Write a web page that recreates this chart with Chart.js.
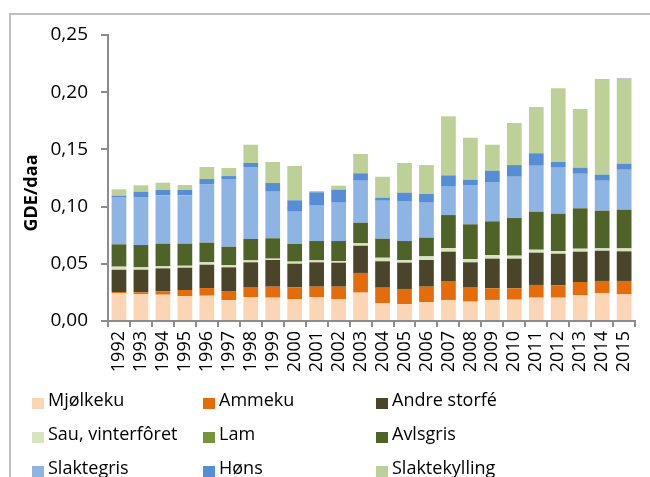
<!DOCTYPE html>
<html>
<head>
<meta charset="utf-8">
<script src="https://cdn.jsdelivr.net/npm/chart.js@4"></script>
<style>
  body { margin: 0; background: #fff; }
  #wrap { position: relative; width: 650px; height: 477px; overflow: hidden; }
  #frame { position: absolute; left: 9px; top: 13px; width: 700px; height: 500px;
           border-left: 2px solid #bfbfbf; border-top: 2px solid #bfbfbf; }
  canvas { position: absolute; left: 0; top: 0; }
  .lg { position: absolute; font: 18px "Open Sans", sans-serif; color: #000; white-space: nowrap; }
  .lg span { position: absolute; width: 12px; height: 11px; left: 0; top: 7px; }
  .lg b { font-weight: normal; position: absolute; left: 16px; top: -4px; }
</style>
</head>
<body>
<div id="wrap">
  <div id="frame"></div>
  <canvas id="chart" width="650" height="477"></canvas>
  <div id="legend"></div>
</div>
<script>
const years = ['1992','1993','1994','1995','1996','1997','1998','1999','2000','2001','2002','2003',
               '2004','2005','2006','2007','2008','2009','2010','2011','2012','2013','2014','2015'];

// GDE/daa per husdyrslag (lest av figuren)
const mjolkeku      = [0.0242,0.0236,0.0230,0.0216,0.0221,0.0181,0.0210,0.0204,0.0190,0.0207,0.0190,0.0248,
                       0.0157,0.0146,0.0166,0.0184,0.0169,0.0184,0.0186,0.0204,0.0204,0.0227,0.0245,0.0233];
const ammeku        = [0.0011,0.0015,0.0029,0.0055,0.0067,0.0081,0.0087,0.0096,0.0104,0.0093,0.0110,0.0172,
                       0.0134,0.0134,0.0134,0.0160,0.0128,0.0102,0.0100,0.0111,0.0108,0.0114,0.0105,0.0117];
const andreStorfe   = [0.0195,0.0197,0.0201,0.0195,0.0204,0.0207,0.0216,0.0233,0.0207,0.0213,0.0210,0.0238,
                       0.0231,0.0230,0.0233,0.0262,0.0216,0.0259,0.0259,0.0282,0.0276,0.0265,0.0264,0.0259];
const sau           = [0.0027,0.0021,0.0018,0.0017,0.0021,0.0018,0.0017,0.0012,0.0018,0.0017,0.0014,0.0021,
                       0.0031,0.0023,0.0032,0.0032,0.0029,0.0032,0.0026,0.0026,0.0024,0.0026,0.0021,0.0026];
const lam           = [0,0,0,0,0,0,0,0,0,0,0,0,0,0,0,0,0,0,0,0,0,0,0,0];
const avlsgris      = [0.0195,0.0195,0.0198,0.0193,0.0172,0.0162,0.0187,0.0178,0.0154,0.0169,0.0175,0.0180,
                       0.0166,0.0166,0.0163,0.0288,0.0303,0.0294,0.0329,0.0332,0.0326,0.0353,0.0329,0.0338];
const slaktegris    = [0.0408,0.0420,0.0422,0.0422,0.0512,0.0592,0.0629,0.0407,0.0282,0.0309,0.0335,0.0367,
                       0.0332,0.0344,0.0306,0.0248,0.0344,0.0344,0.0361,0.0402,0.0402,0.0302,0.0262,0.0349];
const hons          = [0.0017,0.0046,0.0047,0.0047,0.0044,0.0026,0.0035,0.0076,0.0100,0.0117,0.0114,0.0065,
                       0.0027,0.0079,0.0076,0.0099,0.0046,0.0099,0.0102,0.0109,0.0050,0.0053,0.0053,0.0053];
const slaktekylling = [0.0056,0.0056,0.0064,0.0044,0.0105,0.0070,0.0160,0.0184,0.0300,0.0011,0.0035,0.0169,
                       0.0183,0.0259,0.0253,0.0516,0.0367,0.0227,0.0368,0.0404,0.0644,0.0513,0.0830,0.0743];
// liten lilla topp (ikke med i synlig tegnforklaring)
const ovrige        = [0,0,0,0,0,0,0,0,0,0,0,0,0,0,0,0,0,0,0,0,0,0,0.0006,0.0006];

const series = [
  { label: 'Mjølkeku',         data: mjolkeku,      color: '#fcd5b5' },
  { label: 'Ammeku',           data: ammeku,        color: '#e46c0a' },
  { label: 'Andre storfé',     data: andreStorfe,   color: '#4a452a' },
  { label: 'Sau, vinterfôret', data: sau,           color: '#d7e4bd' },
  { label: 'Lam',              data: lam,           color: '#77933c' },
  { label: 'Avlsgris',         data: avlsgris,      color: '#4f6228' },
  { label: 'Slaktegris',       data: slaktegris,    color: '#8eb4e3' },
  { label: 'Høns',             data: hons,          color: '#558ed5' },
  { label: 'Slaktekylling',    data: slaktekylling, color: '#bcd097' },
  { label: 'Øvrige',           data: ovrige,        color: '#b3a2c7', hidden: true }
];

const font = '"Open Sans", sans-serif';
const axisGray = '#8c8c8c';

// y-aksetittel plassert som i originalen
const yTitle = {
  id: 'yTitle',
  afterDraw(chart) {
    const c = chart.ctx;
    c.save();
    c.translate(32, 193);
    c.rotate(-Math.PI / 2);
    c.font = 'bold 18px ' + font;
    c.fillStyle = '#000';
    c.textAlign = 'center';
    c.textBaseline = 'middle';
    c.fillText('GDE/daa', 0, 0);
    c.restore();
  }
};

const chart = new Chart(document.getElementById('chart'), {
  type: 'bar',
  data: {
    labels: years,
    datasets: series.map(s => ({
      label: s.label,
      data: s.data,
      backgroundColor: s.color,
      borderWidth: 0,
      barPercentage: 0.67,
      categoryPercentage: 1
    }))
  },
  options: {
    responsive: false,
    animation: false,
    devicePixelRatio: 1,
    layout: { padding: { left: 0, right: 13, top: 35, bottom: 96 } },
    plugins: { legend: { display: false }, tooltip: { enabled: false } },
    scales: {
      x: {
        stacked: true,
        afterFit: s => { s.height = 60; },
        border: { color: axisGray, width: 2 },
        grid: { drawOnChartArea: false, drawTicks: true, tickLength: 6, color: axisGray, lineWidth: 2, offset: true },
        ticks: { autoSkip: false, minRotation: 90, maxRotation: 90, padding: 4,
                 color: '#000', font: { family: font, size: 18 } }
      },
      y: {
        stacked: true,
        min: 0, max: 0.25,
        afterFit: s => { s.width = 108; },
        border: { color: axisGray, width: 2 },
        grid: { drawOnChartArea: false, drawTicks: true, tickLength: 7, color: axisGray, lineWidth: 2 },
        ticks: { stepSize: 0.05, padding: 13, color: '#000', font: { family: font, size: 19 },
                 callback: v => v.toFixed(2).replace('.', ',') }
      }
    }
  },
  plugins: [yTitle]
});

// tegnforklaring i tre kolonner
const colX = [32, 203, 376];
const rowY = [391, 425, 459];
const legend = document.getElementById('legend');
chart.data.datasets.forEach((ds, i) => {
  if (series[i].hidden) return;
  const el = document.createElement('div');
  el.className = 'lg';
  el.style.left = colX[i % 3] + 'px';
  el.style.top = rowY[Math.floor(i / 3)] + 'px';
  el.innerHTML = '<span style="background:' + ds.backgroundColor + '"></span><b>' + ds.label + '</b>';
  legend.appendChild(el);
});
</script>
</body>
</html>
